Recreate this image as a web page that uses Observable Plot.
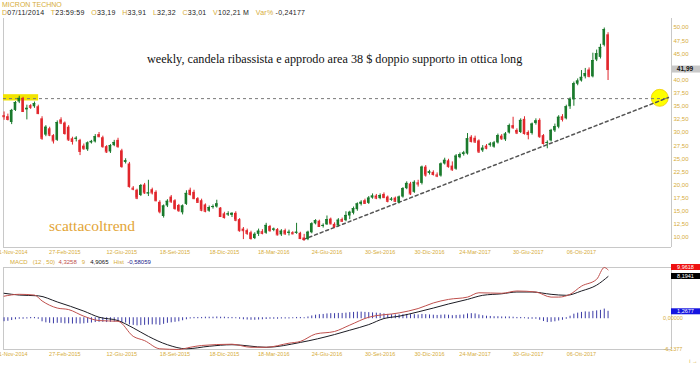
<!DOCTYPE html>
<html><head><meta charset="utf-8">
<script src="https://cdn.jsdelivr.net/npm/d3@7"></script>
<script src="https://cdn.jsdelivr.net/npm/@observablehq/plot@0.6"></script>
<style>
body{margin:0;background:#fff;}
#wrap{position:relative;width:700px;height:365px;overflow:hidden;font-family:Arial,"Liberation Sans",sans-serif;background:#fff;}
.t{position:absolute;white-space:nowrap;line-height:1;}
.g{color:#d6ac3a;}
#wrap svg{position:absolute;left:0;}
</style></head><body><div id="wrap"></div>
<script>
// ---- data (weekly candles, MICRON TECHNOLOGY) ----
const opens  = [33.19,33.0,31.9,34.2,35.8,36.5,34.3,35.1,34.9,34.9,32.6,29.5,30.7,29.4,28.5,32.4,31.8,31.0,28.8,28.7,28.5,27.4,26.7,28.0,28.2,29.6,29.0,27.3,26.3,27.5,28.5,26.5,24.3,24.0,19.4,19.0,18.0,20.0,18.3,19.1,18.6,16.7,14.0,16.0,17.7,17.0,16.1,14.7,16.3,19.0,18.6,17.4,17.0,16.2,15.0,15.7,15.8,15.6,14.5,14.3,14.2,14.6,13.4,11.6,11.3,10.9,9.8,10.6,11.1,10.8,12.1,11.4,11.5,10.5,11.3,10.8,10.9,10.8,10.8,9.9,9.6,10.9,12.6,13.1,12.1,12.4,13.5,12.5,12.2,13.4,13.2,14.1,14.6,15.3,16.3,17.0,16.5,17.5,17.9,17.4,18.2,17.7,17.1,17.5,16.6,17.7,19.3,20.2,18.6,20.4,20.3,23.4,22.2,22.4,21.9,21.7,24.0,24.6,23.6,23.0,25.2,25.8,25.9,29.1,28.9,28.4,26.5,27.4,27.5,27.2,28.0,29.3,28.6,29.9,31.3,30.4,30.0,32.5,30.0,29.8,31.7,32.3,29.4,27.9,28.4,30.3,31.0,33.0,32.6,34.9,36.2,39.2,39.8,40.6,41.9,40.6,43.8,44.3,46.6,48.6];
const highs  = [33.91,33.5,34.4,35.9,36.9,36.7,35.2,35.3,35.8,35.2,33.0,31.3,31.0,29.6,32.2,32.8,32.0,31.3,29.1,29.2,28.7,27.8,28.2,28.5,29.6,30.0,29.3,27.5,27.7,28.5,28.9,26.8,25.0,24.3,19.7,19.2,20.1,20.3,20.9,19.4,18.9,17.0,16.2,17.2,18.0,17.2,16.3,16.2,18.9,19.4,19.0,17.6,17.3,16.4,16.0,16.2,17.1,15.7,14.8,14.9,14.7,14.9,13.6,11.9,11.6,11.2,10.9,11.6,11.5,12.7,12.3,11.8,11.7,11.5,11.6,11.4,11.1,12.7,11.0,10.6,11.2,12.8,13.4,13.3,12.6,14.1,13.7,12.8,13.6,13.7,14.9,15.0,15.8,16.6,17.0,17.3,17.8,18.3,18.2,18.3,18.5,17.9,17.6,17.7,17.9,19.5,20.6,20.5,20.8,20.9,23.6,23.7,22.8,22.7,22.3,24.2,25.1,24.9,24.4,25.8,26.1,26.4,29.8,29.4,29.3,28.6,27.5,27.7,28.1,28.3,29.7,29.6,30.0,31.6,32.9,30.7,32.6,33.0,30.3,31.8,32.6,32.6,29.6,28.4,30.6,31.6,33.2,33.4,35.2,36.6,39.6,40.2,41.8,42.2,42.3,45.1,45.7,46.8,49.9,49.0];
const lows   = [32.32,32.2,31.5,34.0,35.5,33.8,32.4,34.4,34.6,33.4,28.5,29.2,29.2,27.8,28.3,31.5,29.5,28.3,27.6,28.2,25.6,26.6,26.4,27.8,28.0,29.0,27.0,26.0,26.0,27.3,27.0,23.2,24.0,19.4,18.9,17.2,17.8,18.2,17.8,18.1,16.8,14.5,13.7,15.7,16.5,15.2,14.8,14.3,16.1,17.9,17.2,16.5,14.9,14.7,14.8,15.4,15.6,13.8,13.5,14.0,13.8,13.0,11.0,9.6,10.4,9.5,9.6,10.2,10.5,10.6,11.0,11.1,10.3,10.2,10.4,10.3,10.5,10.6,9.6,9.3,9.4,10.7,12.4,11.9,11.8,12.3,12.4,11.7,12.0,12.9,13.0,13.4,14.3,15.0,16.0,16.3,16.3,17.3,17.2,17.2,17.4,16.6,16.9,16.7,16.4,17.5,19.1,18.0,18.4,19.6,20.0,21.5,21.9,21.7,21.4,21.5,23.8,23.2,22.6,22.8,25.0,25.5,25.7,28.0,27.9,26.0,26.2,26.7,27.2,27.0,27.8,28.5,28.3,29.7,30.6,29.6,29.8,29.5,28.6,29.5,31.4,28.9,27.6,26.9,28.2,30.0,30.7,32.0,32.4,34.4,35.0,38.9,39.6,40.2,40.4,40.4,43.5,44.0,46.3,39.9];
const closes = [33.01,32.5,34.2,35.7,36.5,34.0,34.6,34.8,35.5,33.6,28.9,31.0,29.5,28.4,31.9,31.8,29.8,28.6,28.3,28.9,26.4,26.9,28.0,28.3,29.2,29.2,27.3,26.3,27.5,28.1,27.3,23.5,24.6,19.7,19.2,17.5,19.9,18.5,18.5,18.5,17.0,14.9,16.0,16.9,16.8,15.5,15.1,16.0,18.4,18.2,17.4,16.7,15.2,15.0,15.7,15.9,16.4,14.0,13.8,14.5,14.6,13.3,11.3,11.3,10.8,9.8,10.6,11.2,10.8,12.3,11.3,11.6,10.5,11.2,10.7,11.0,10.7,11.0,9.8,9.6,11.0,12.6,13.2,12.1,12.3,13.4,12.6,12.1,13.3,13.1,14.2,14.8,15.5,16.4,16.7,16.5,17.5,17.9,17.5,18.0,17.6,16.9,17.3,16.9,17.7,19.3,20.3,18.3,20.5,20.2,23.4,21.9,22.5,22.0,21.7,24.0,24.7,23.5,22.9,25.5,25.8,26.1,28.8,28.3,28.2,26.3,27.0,27.0,27.8,28.0,29.4,28.8,29.7,31.3,30.9,29.9,32.3,29.8,29.6,31.6,32.2,29.2,27.9,28.1,30.4,31.1,32.9,32.5,34.9,36.3,39.3,39.8,40.5,41.2,40.7,43.7,45.0,46.2,49.6,41.99];

// x-axis tick positions (week index) and labels
const tickIdx    = [2,16,31,45,58,71,85,99,112,124,138,152];
const tickLabels = ["21-Nov-2014","27-Feb-2015","12-Giu-2015","18-Set-2015","18-Dic-2015","18-Mar-2016","24-Giu-2016","30-Set-2016","30-Dic-2016","24-Mar-2017","30-Giu-2017","06-Ott-2017"];
const yTicks = [10,12.5,15,17.5,20,22.5,25,27.5,30,32.5,35,37.5,40,45,47.5,50];

// annotations
const supportLevel = 36.45;
const trendIdx = [78.8, 174.9];
const trendVal = [9.62, 36.67];
const circleIdx = 172.6, circleVal = 36.6;
const lastPrice = 41.99;

// MACD panel
const macdIdx  = [0,4,8,10,14,17,21,25,30,34,37,41,46,49,52,60,65,69,75,78,82,87,91,96,104,109,113,117,122,125,131,135,140,144,146,149,152,156,158,159];
const macdVals = [4.33,4.7,4.55,3.4,2.0,1.7,0.4,-0.46,-0.6,-3.56,-4.4,-6.0,-6.13,-5.7,-5.35,-5.1,-5.7,-5.7,-4.9,-4.55,-3.1,-2.6,-1.35,0.2,1.05,1.9,3.0,3.7,4.15,5.0,4.9,5.35,5.15,4.15,4.15,4.7,6.3,7.65,9.96,9.5];
const sigIdx   = [0,4,9,14,21,25,30,34,38,43,48,54,60,69,78,87,91,96,100,104,109,113,117,122,126,131,135,139,144,148,152,156,159];
const sigVals  = [4.9,4.55,4.4,3.2,1.4,0.2,-0.46,-1.9,-3.56,-5.2,-6.0,-5.5,-5.2,-5.7,-4.75,-3.2,-2.35,-1.25,-0.06,0.4,1.25,2.0,2.8,3.7,4.5,4.8,5.15,5.15,4.7,4.5,5.35,6.5,8.19];
const histVals = [-0.58,-0.5,-0.35,-0.2,-0.1,-0.1,-0.05,0.05,0.05,-0.1,-0.6,-0.8,-0.9,-1.0,-0.9,-0.9,-1.0,-1.0,-1.05,-1.0,-1.05,-1.0,-0.9,-0.85,-0.75,-0.7,-0.7,-0.75,-0.7,-0.65,-0.6,-0.8,-0.85,-1.2,-1.3,-1.4,-1.35,-1.3,-1.25,-1.2,-1.2,-1.3,-1.1,-0.9,-0.8,-0.7,-0.6,-0.4,-0.2,-0.05,0.05,0.05,0.05,0.1,0.1,0.1,0.15,0.1,0.1,0.05,0.05,0.0,-0.1,-0.2,-0.25,-0.3,-0.3,-0.25,-0.2,-0.15,-0.1,-0.1,-0.1,-0.05,-0.05,-0.05,0.0,0.05,0.05,0.0,0.15,0.35,0.5,0.6,0.65,0.75,0.8,0.8,0.85,0.85,0.9,1.0,1.05,1.1,1.1,1.05,1.0,0.95,0.9,0.85,0.75,0.65,0.6,0.55,0.55,0.6,0.65,0.6,0.6,0.55,0.65,0.6,0.55,0.5,0.45,0.5,0.55,0.5,0.4,0.45,0.5,0.55,0.75,0.8,0.75,0.55,0.4,0.3,0.25,0.2,0.2,0.15,0.15,0.15,0.1,0.05,0.05,0.0,-0.1,-0.1,-0.1,-0.3,-0.55,-0.75,-0.7,-0.6,-0.45,-0.3,-0.1,0.3,0.7,0.9,1.05,1.15,1.1,1.25,1.35,1.45,1.7,1.27];
const macdMin = -6.1377, macdMax = 9.9618, sigLast = 8.1941, histLast = 1.2677;

// ---- styling ----
const gold = "#d6ac3a", up = "#1a7a2c", down = "#e1262c";
const xDomain = [-0.15, 175.7];
const fmt = (v, n) => v.toFixed(n).replace(".", ",");

const candles = opens.map((o, i) => ({i, o, h: highs[i], l: lows[i], c: closes[i], col: closes[i] >= o ? up : down}));
const wrap = document.getElementById("wrap");

const main = Plot.plot({
  width: 700, height: 262, marginTop: 18, marginRight: 29, marginBottom: 15, marginLeft: 3,
  style: {background: "transparent", fontFamily: "Arial, 'Liberation Sans', sans-serif", overflow: "visible"},
  x: {type: "linear", domain: xDomain, axis: null},
  y: {domain: [8.095, 51.71], axis: null},
  marks: [
    Plot.ruleX(xDomain, {stroke: "#c8c8c8"}),
    Plot.ruleY([8.095], {stroke: "#c8c8c8"}),
    Plot.rect([{a: -0.15, b: 9.1, lo: 36.0, hi: 37.2}], {x1: "a", x2: "b", y1: "lo", y2: "hi", fill: "#f2e400"}),
    Plot.dot([{i: circleIdx, p: circleVal}], {x: "i", y: "p", r: 8.5, fill: "#ffff00", stroke: "#f0cc00", strokeWidth: 0.8}),
    Plot.ruleY([supportLevel], {x1: -0.15, x2: 174.9, stroke: "#7a7a7a", strokeDasharray: "3,3"}),
    Plot.line(trendIdx.map((i, k) => ({i, p: trendVal[k]})), {x: "i", y: "p", stroke: "#555", strokeDasharray: "3,3"}),
    Plot.ruleX(candles, {x: "i", y1: "l", y2: "h", stroke: "col", strokeWidth: 1}),
    Plot.rect(candles, {x1: d => d.i - 0.34, x2: d => d.i + 0.34, y1: "o", y2: "c", fill: "col"}),
    Plot.ruleY(candles, {x1: d => d.i - 0.34, x2: d => d.i + 0.34, y: "c", stroke: "col", strokeWidth: 1}),
    Plot.axisY(yTicks, {anchor: "right", tickSize: 0, tickPadding: 2, fontSize: 6, fill: gold, tickFormat: d => fmt(d, 2)}),
    Plot.axisX(tickIdx, {anchor: "bottom", tickSize: 0, tickPadding: 3, fontSize: 5.5, fill: gold, tickFormat: d => tickLabels[tickIdx.indexOf(d)]})
  ]
});
main.style.top = "0px";
wrap.appendChild(main);

// last price box
{
  const y = main.scale("y").apply(lastPrice);
  const s = d3.select(main);
  s.append("rect").attr("x", 671).attr("y", y - 3.5).attr("width", 29).attr("height", 7).attr("fill", "#c8c8c8");
  s.append("text").attr("x", 685).attr("y", y + 2).attr("text-anchor", "middle").attr("font-size", 6.5).attr("font-weight", "bold").attr("fill", "#111").text(fmt(lastPrice, 2));
}

const macd = Plot.plot({
  width: 700, height: 103, marginTop: 5, marginRight: 29, marginBottom: 16, marginLeft: 3,
  style: {background: "transparent", fontFamily: "Arial, 'Liberation Sans', sans-serif", overflow: "visible"},
  x: {type: "linear", domain: xDomain, axis: null},
  y: {domain: [macdMin, macdMax], axis: null},
  marks: [
    Plot.ruleX(xDomain, {stroke: "#c8c8c8"}),
    Plot.ruleY([macdMin, macdMax], {stroke: "#c8c8c8"}),
    Plot.ruleX(histVals.map((v, i) => ({i, v})), {x: "i", y1: 0, y2: "v", stroke: "#3b3ba6", strokeWidth: 1, strokeLinecap: "square"}),
    Plot.line(sigIdx.map((i, k) => ({i, v: sigVals[k]})), {x: "i", y: "v", stroke: "#1c1c24", strokeWidth: 1, curve: "monotone-x"}),
    Plot.line(macdIdx.map((i, k) => ({i, v: macdVals[k]})), {x: "i", y: "v", stroke: "#c0504d", strokeWidth: 1, curve: "monotone-x"}),
    Plot.axisX(tickIdx, {anchor: "bottom", tickSize: 0, tickPadding: 3, fontSize: 5.5, fill: gold, tickFormat: d => tickLabels[tickIdx.indexOf(d)]})
  ]
});
macd.style.top = "262px";
wrap.appendChild(macd);

{
  const ys = macd.scale("y");
  const s = d3.select(macd);
  const box = (v, bg, fg, label) => {
    const y = ys.apply(v);
    s.append("rect").attr("x", 671).attr("y", y - 3).attr("width", 29).attr("height", 6).attr("fill", bg);
    s.append("text").attr("x", 685.5).attr("y", y + 2).attr("text-anchor", "middle").attr("font-size", 5.5).attr("fill", fg).text(label);
  };
  box(macdMax, "#ee1111", "#fff", fmt(macdMax, 4));
  box(sigLast, "#000", "#fff", fmt(sigLast, 4));
  box(histLast, "#1515e0", "#fff", fmt(histLast, 4));
  s.append("text").attr("x", 673).attr("y", ys.apply(0) + 2).attr("font-size", 5.5).attr("fill", gold).text(fmt(0, 5));
  s.append("text").attr("x", 673).attr("y", ys.apply(macdMin) + 2).attr("font-size", 5.5).attr("fill", gold).text(fmt(macdMin, 4));
}

// texts
const addText = (html, css) => { const d = document.createElement("div"); d.className = "t"; d.style.cssText = css; d.innerHTML = html; wrap.appendChild(d); };
addText("MICRON TECHNO", "left:2px;top:1px;font-size:7px;color:" + gold + ";");
addText('<span class="g">D</span>07/11/2014 &nbsp; <span class="g">T</span>23:59:59 &nbsp; <span class="g">O</span>33,19 &nbsp; <span class="g">H</span>33,91 &nbsp; <span class="g">L</span>32,32 &nbsp; <span class="g">C</span>33,01 &nbsp; <span class="g">V</span>102,21 M &nbsp; <span class="g">Var%</span> -0,24177', "left:2px;top:9px;font-size:7px;letter-spacing:0.25px;color:#222;");
addText("weekly, candela ribassista e approdo area 38 $ doppio supporto in ottica long", "left:147px;top:53px;font-family:'Liberation Serif','Times New Roman',serif;font-size:12.2px;color:#111;");
addText("scattacoltrend", "left:49px;top:218px;font-family:'Liberation Serif','Times New Roman',serif;font-size:15.5px;color:#e3a536;");
addText('<span class="g">MACD</span> &nbsp; <span class="g">(12 , 50)</span> &nbsp;<span style="color:#c0504d">4,3258</span> &nbsp; <span class="g">9</span> &nbsp; <span style="color:#111">4,9065</span> &nbsp; <span class="g">Hist</span> &nbsp;<span style="color:#22228a">-0,58059</span>', "left:10px;top:259px;font-size:6px;");
</script></body></html>
